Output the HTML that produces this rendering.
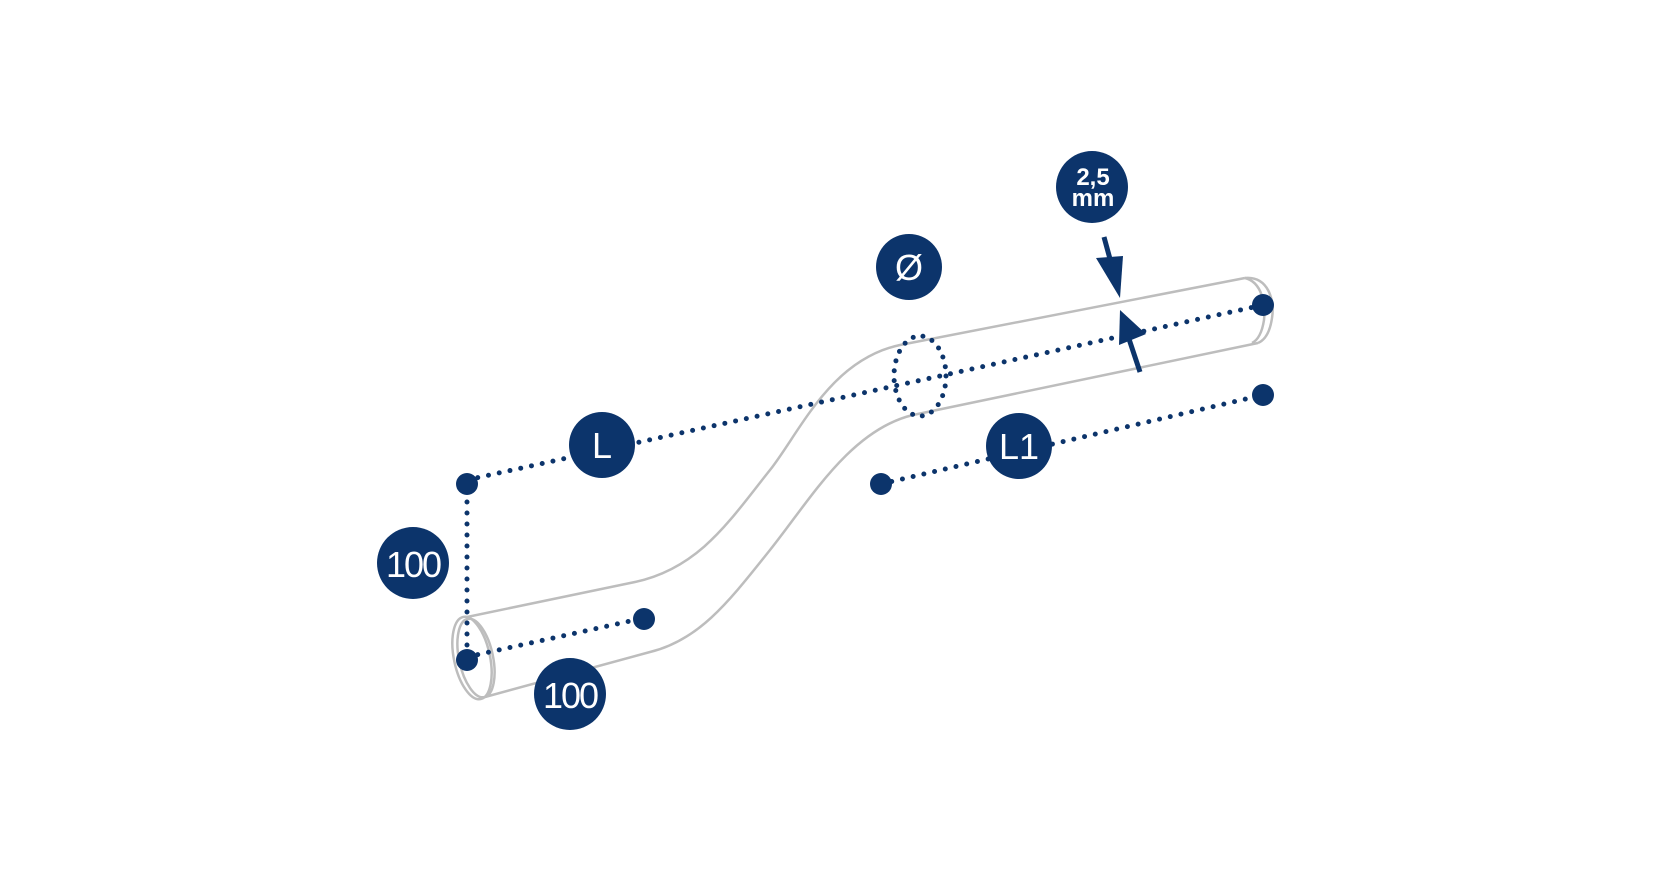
<!DOCTYPE html>
<html><head><style>html,body{margin:0;padding:0;background:#fff}svg{display:block}</style></head>
<body>
<svg width="1656" height="891" viewBox="0 0 1656 891" xmlns="http://www.w3.org/2000/svg">
<g fill="none" stroke="#bdbdbd" stroke-width="2.5">
<path d="M467,617 L635,582 C700,568 730,520 770,470 C800,432 830,360 900,345 L1245,278"/>
<path d="M485,697 L650,652 C700,640 730,600 770,550 C810,500 850,430 913,415 L1258,343"/>
<path d="M1245,278 C1268,276 1275,300 1272,318 C1270,332 1265,340 1258,343"/>
<path d="M1245,278 C1262,282 1266,305 1264,320 C1262,333 1258,340 1252,343"/>
<ellipse cx="472" cy="658" rx="18" ry="42" transform="rotate(-12 472 658)"/>
<ellipse cx="476" cy="658" rx="17" ry="40" transform="rotate(-12 476 658)"/>
</g>
<g fill="none" stroke="#0c346b" stroke-width="5" stroke-linecap="round" stroke-dasharray="0 11">
<line x1="467" y1="480" x2="1263" y2="305"/>
<line x1="467" y1="480" x2="467" y2="657"/>
<line x1="467" y1="657" x2="644" y2="618"/>
<line x1="881" y1="484" x2="1263" y2="395"/>
<ellipse cx="920" cy="376" rx="26" ry="40" stroke-dasharray="0 10"/>
</g>
<g fill="#0c346b">
<circle cx="467" cy="484" r="11"/>
<circle cx="467" cy="660" r="11"/>
<circle cx="644" cy="619" r="11"/>
<circle cx="881" cy="484" r="11"/>
<circle cx="1263" cy="305" r="11"/>
<circle cx="1263" cy="395" r="11"/>
<circle cx="602" cy="445" r="33"/>
<circle cx="413" cy="563" r="36"/>
<circle cx="570" cy="694" r="36"/>
<circle cx="909" cy="267" r="33"/>
<circle cx="1092" cy="187" r="36"/>
<circle cx="1019" cy="446" r="33"/>
</g>
<g stroke="#0c346b" stroke-width="5" fill="#0c346b">
<line x1="1104" y1="237" x2="1113" y2="270"/>
<polygon points="1096,258 1123,256 1120,298" stroke="none"/>
<line x1="1140" y1="372" x2="1128" y2="336"/>
<polygon points="1120,310 1146,334 1119,345" stroke="none"/>
</g>
<g fill="#fff" font-family="Liberation Sans, sans-serif" text-anchor="middle">
<text x="602" y="458" font-size="36">L</text>
<text x="413" y="577" font-size="36" letter-spacing="-2">100</text>
<text x="570" y="708" font-size="36" letter-spacing="-2">100</text>
<text x="1019" y="459" font-size="36">L1</text>
<text x="909" y="280" font-size="36">Ø</text>
<text x="1093" y="185" font-size="24" font-weight="bold">2,5</text>
<text x="1093" y="206" font-size="24" font-weight="bold">mm</text>
</g>
</svg>
</body></html>
